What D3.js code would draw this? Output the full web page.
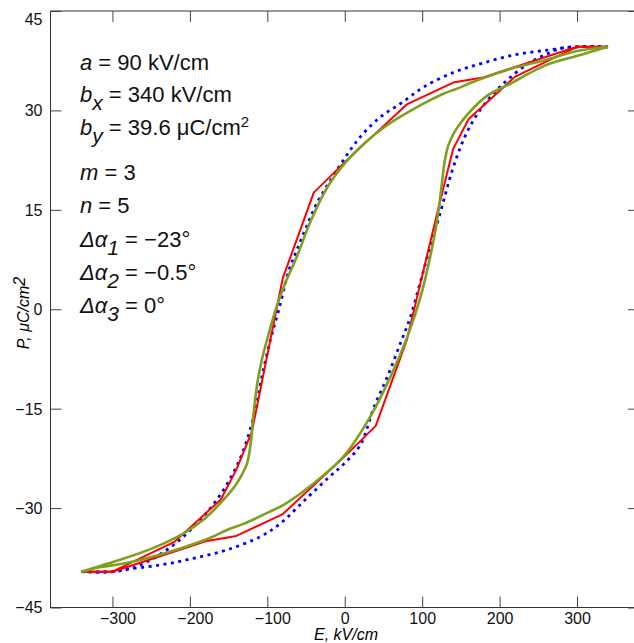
<!DOCTYPE html>
<html>
<head>
<meta charset="utf-8">
<script src="https://cdn.jsdelivr.net/npm/d3@7"></script>
<style>
  body { margin: 0; background: #fff; }
  svg { display: block; font-family: "Liberation Sans", Arial, sans-serif; }
</style>
</head>
<body>
<svg width="634" height="643"></svg>
<script>
// tick values
const xTicks = [-300, -200, -100, 0, 100, 200, 300];
const yTicks = [-45, -30, -15, 0, 15, 30, 45];

// red: measured loop, [E, P]
const redDown = [[340, 39.6], [300, 39.6], [200, 35.8], [180, 35], [140, 34.2], [80, 30.9], [0, 22.2], [-40, 17.6],
  [-80, 4.7], [-120, -18.5], [-140, -24.2], [-160, -28.7], [-220, -35.1], [-300, -39.6], [-340, -39.6]];
const redUp = [[-340, -39.6], [-300, -39.6], [-200, -35.8], [-180, -35], [-140, -34.2], [-80, -30.9], [0, -22.2], [40, -17.6],
  [80, -4.7], [120, 14.8], [140, 24.2], [160, 28.7], [220, 35.1], [300, 39.6], [340, 39.6]];

// blue dotted model
const blueDown = [[340, 39.6], [300, 39.6], [262, 39.1], [220, 38.4], [177, 37.1], [142, 35.8], [103, 33.6], [73, 31.1],
  [46, 29], [20, 26], [0, 22.8], [-18, 19.5], [-36, 16], [-50, 12.3], [-62, 8.9], [-72, 5.9], [-85, 0], [-96, -4.6],
  [-107, -10.2], [-116, -15.4], [-129, -20.7], [-144, -24.7], [-165, -28.7], [-187, -31.8], [-213, -34.8],
  [-243, -37.3], [-273, -39], [-300, -39.6], [-340, -39.6]];
const blueUp = [[-340, -39.6], [-300, -39.6], [-286, -39.3], [-239, -38.6], [-196, -37.6], [-152, -36.3], [-109, -34.3],
  [-83, -32.3], [-49, -28.5], [-20, -25.3], [0, -23.2], [20, -20.5], [38, -14.7], [55, -10.2], [72, -5.1], [85, -1.1],
  [96, 3.4], [109, 8.9], [122, 14], [139, 21], [155, 26], [172, 29.6], [194, 32.8], [213, 34.9], [237, 37.1],
  [259, 38.4], [280, 39.4], [300, 39.6], [340, 39.6]];

// green model
const greenDown = [[340, 39.6], [302, 39], [259, 37.6], [215, 36.3], [172, 34.6], [143, 33.2], [129, 32.6], [98, 30.8],
  [55, 27.8], [25, 25], [0, 22], [-23, 18.3], [-44, 13.3], [-62, 7.9], [-77, 3.9], [-88, 0.4], [-98, -3.6],
  [-107, -7.6], [-113, -11.2], [-118, -16], [-121, -19.8], [-126, -23.2], [-133, -25], [-139, -26.2], [-157, -28.8],
  [-183, -31.8], [-208, -33.8], [-247, -36], [-290, -37.8], [-315, -38.7], [-340, -39.6]];
const greenUp = [[-340, -39.6], [-315, -38.9], [-282, -38.3], [-226, -36.6], [-172, -34.4], [-152, -33.3], [-129, -32.3],
  [-98, -30.6], [-79, -29.5], [-55, -27.6], [-25, -24.8], [0, -22], [33, -16.2], [59, -10.2], [81, -4.1], [98, 1.9],
  [113, 9.4], [120, 14], [125, 18.5], [129, 22.3], [134, 24.8], [142, 26.8], [164, 30.1], [185, 32.3], [215, 34.1],
  [259, 36.8], [302, 38.3], [340, 39.6]];

// parameter notes: [text, style]
const notes = [
  [["a", "i"], [" = 90 kV/cm"]],
  [["b", "i"], ["x", "sub"], [" = 340 kV/cm"]],
  [["b", "i"], ["y", "sub"], [" = 39.6 μC/cm"], ["2", "sup"]],
  [["m", "i"], [" = 3"]],
  [["n", "i"], [" = 5"]],
  [["Δα", "i"], ["1", "sub"], [" = −23°"]],
  [["Δα", "i"], ["2", "sub"], [" = −0.5°"]],
  [["Δα", "i"], ["3", "sub"], [" = 0°"]]
];

const svg = d3.select("svg");
const pLeft = 50.5, pRight = 639, pTop = 11, pBottom = 607.5;

const x = d3.scaleLinear().domain([-380, 380]).range([pLeft, pRight]);
const y = d3.scaleLinear().domain([-45, 45]).range([pBottom, pTop]);

// frame
svg.append("rect")
  .attr("x", pLeft).attr("y", pTop)
  .attr("width", pRight - pLeft).attr("height", pBottom - pTop)
  .attr("fill", "none").attr("stroke", "#333").attr("stroke-width", 1);

function styleAxis(g) {
  g.select(".domain").remove();
  g.selectAll(".tick line").attr("stroke", "#444");
  g.selectAll(".tick text").attr("fill", "#111").style("font-size", "16px")
    .style("font-family", "'Liberation Sans', Arial, sans-serif");
}

const fmt = d => d < 0 ? "\u2212" + Math.abs(d) : String(d);

svg.append("g").attr("transform", `translate(0,${pBottom})`)
  .call(d3.axisBottom(x).tickValues(xTicks).tickSize(-11).tickPadding(5).tickFormat(fmt))
  .call(styleAxis)
  .call(g => g.selectAll(".tick text").attr("dx", d => d < 0 ? 5 : 0));

svg.append("g").attr("transform", `translate(0,${pTop})`)
  .call(d3.axisTop(x).tickValues(xTicks).tickSize(-11).tickFormat(""))
  .call(styleAxis);

svg.append("g").attr("transform", `translate(${pLeft},0)`)
  .call(d3.axisLeft(y).tickValues(yTicks).tickSize(-11).tickPadding(8).tickFormat(fmt))
  .call(styleAxis)
  .call(g => g.selectAll(".tick text").attr("dy", d => d === 45 ? "0.85em" : "0.34em"));

svg.append("g").attr("transform", `translate(${pRight},0)`)
  .call(d3.axisRight(y).tickValues(yTicks).tickSize(-11).tickFormat(""))
  .call(styleAxis);

// axis titles
svg.append("text")
  .attr("x", 346).attr("y", 639.5)
  .attr("text-anchor", "middle")
  .style("font-size", "16px").style("font-style", "italic")
  .text("E, kV/cm");

const yt = svg.append("text")
  .attr("transform", "translate(29,313) rotate(-90)")
  .attr("text-anchor", "middle")
  .style("font-size", "16px").style("font-style", "italic");
yt.append("tspan").text("P, μC/cm");
yt.append("tspan").attr("dy", -4).text("2");

// curves
const line = d3.line().x(d => x(d[0])).y(d => y(d[1]));
const smooth = d3.line().x(d => x(d[0])).y(d => y(d[1])).curve(d3.curveCatmullRom.alpha(0.5));

[blueDown, blueUp].forEach(b => {
  svg.append("path").attr("d", smooth(b))
    .attr("fill", "none").attr("stroke", "#0000ff")
    .attr("stroke-width", 2.8).attr("stroke-dasharray", "3,4.5");
});
[redDown, redUp].forEach(b => {
  svg.append("path").attr("d", line(b))
    .attr("fill", "none").attr("stroke", "#ff0000")
    .attr("stroke-width", 2).attr("stroke-linejoin", "round");
});
[greenDown, greenUp].forEach(b => {
  svg.append("path").attr("d", smooth(b))
    .attr("fill", "none").attr("stroke", "#7fa01e")
    .attr("stroke-width", 2.6);
});

// parameter notes
const noteY = [70, 102, 135, 180, 213, 247, 280, 313];
notes.forEach((parts, i) => {
  const t = svg.append("text").attr("x", 80).attr("y", noteY[i])
    .style("font-size", "22px").attr("fill", "#111");
  let shift = 0;
  parts.forEach(([s, st]) => {
    const ts = t.append("tspan").text(s);
    let want = 0;
    if (st === "i") ts.style("font-style", "italic");
    if (st === "sub") { ts.style("font-style", "italic").style("font-size", "21px"); want = 8; }
    if (st === "sup") { ts.style("font-size", "15px"); want = -8; }
    if (want !== shift) { ts.attr("dy", want - shift); shift = want; }
  });
});
</script>
</body>
</html>
